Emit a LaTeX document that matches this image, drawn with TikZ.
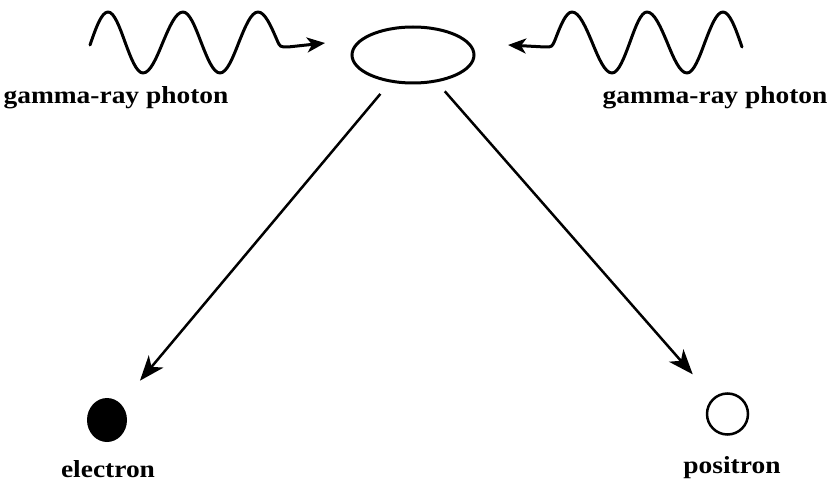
\documentclass[tikz,border=0pt]{standalone}
\usepackage{fontspec}
\setmainfont{Liberation Serif}
\newfontfamily\lblfont[FakeStretch=1.12]{Liberation Serif}
\usetikzlibrary{arrows.meta,shapes.geometric}
\begin{document}
\begin{tikzpicture}[x=1pt,y=-1pt,
  wave/.style={line width=3pt, line join=round, line cap=round, -{Stealth[length=18pt,width=15pt,inset=5pt]}},
  ray/.style={line width=2.5pt, -{Stealth[length=25pt,width=19pt,inset=7pt]}},
  lbl/.style={font=\lblfont\bfseries\fontsize{24.5}{24.5}\selectfont, anchor=base, inner sep=0pt}]
\useasboundingbox[fill=white] (0,0) rectangle (833,489);
% particles
\node[draw, ellipse, line width=3pt, minimum width=122pt, minimum height=56pt, inner sep=0pt] (pair) at (413,55) {};
\node[ellipse, fill=black, minimum width=40pt, minimum height=44pt, inner sep=0pt] (electron) at (107,420) {};
\node[draw, circle, line width=2.5pt, minimum size=41pt, inner sep=0pt] (positron) at (727.5,414) {};
% labels
\node[lbl] (g1) at (116,104) {gamma-ray photon};
\node[lbl] (g2) at (715,104) {gamma-ray photon};
\node[lbl] (el) at (108,477) {electron};
\node[lbl] (po) at (732,473) {positron};
% wave ends
\coordinate (w1end) at (325,43);
\coordinate (w2end) at (508,45);
% photons
\draw[wave] (90,45) sin (108,12) cos (125,42) sin (143,73) cos (163,42)
  sin (183,12) cos (201,42) sin (220,73) cos (239,42) sin (258,12)
  cos (277,40) .. controls (280,47) .. (288,47) -- (w1end);
\draw[wave] (742,47) sin (723,12) cos (705,42) sin (687,73) cos (667,42)
  sin (647,12) cos (630,42) sin (612,73) cos (592,42) sin (572,12)
  cos (555,40) .. controls (552,47) .. (545,47) -- (w2end);
% products
\draw[ray, shorten <=15pt, shorten >=30pt] (pair) -- (electron);
\draw[ray, shorten <=12pt, shorten >=31pt] (pair) -- (positron);
\end{tikzpicture}
\end{document}
